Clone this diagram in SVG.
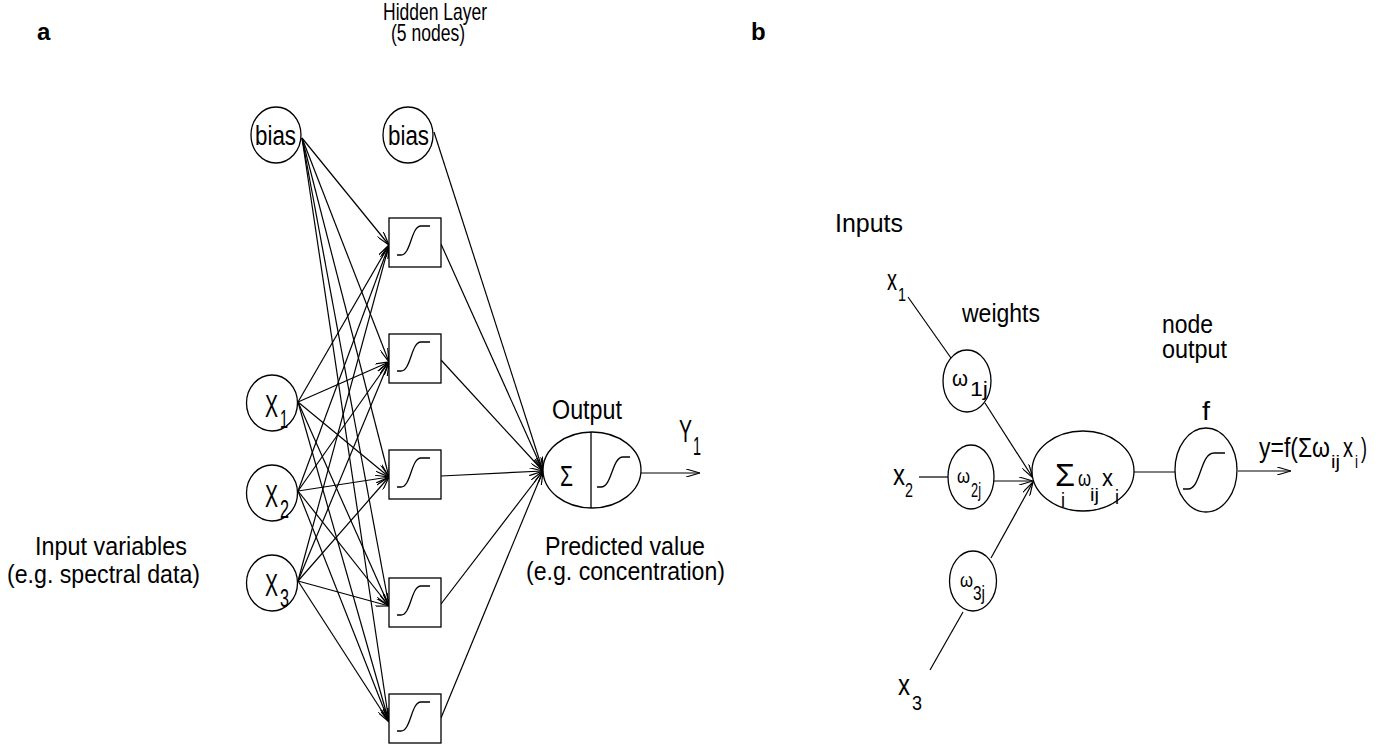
<svg xmlns="http://www.w3.org/2000/svg" width="1383" height="747" viewBox="0 0 1383 747">
<style>
.t{font-family:"Liberation Sans Narrow","Liberation Sans",Arial,sans-serif;fill:#000}
.b{font-family:"Liberation Sans",Arial,sans-serif;font-weight:bold;fill:#000}
.n{fill:#fff;stroke:#000;stroke-width:1.3}
.c line{stroke:#000;stroke-width:1.2}
.a{marker-end:url(#arr)}
.s{fill:none;stroke:#000;stroke-width:1.3}
</style>
<defs>
<marker id="arr" viewBox="0 0 14 8" refX="14" refY="4" markerWidth="14" markerHeight="8" markerUnits="userSpaceOnUse" orient="auto">
<path d="M0,0 L14,4 L0,8" fill="none" stroke="#000" stroke-width="1.2"/>
</marker>
<path id="sig" d="M8,37 L12,37 C22,37 22,8 32,8 L41,8" fill="none" stroke="#000" stroke-width="1.3"/>
</defs>
<rect width="1383" height="747" fill="#fff"/>

<text class="b" x="37" y="40" font-size="24">a</text>
<text class="b" x="751" y="40" font-size="24">b</text>

<!-- panel a labels -->
<text class="t" x="383" y="20" font-size="24" textLength="104" lengthAdjust="spacingAndGlyphs">Hidden Layer</text>
<text class="t" x="391" y="41" font-size="24" textLength="74" lengthAdjust="spacingAndGlyphs">(5 nodes)</text>
<text class="t" x="35" y="555" font-size="26" textLength="152" lengthAdjust="spacingAndGlyphs">Input variables</text>
<text class="t" x="7" y="583" font-size="26" textLength="193" lengthAdjust="spacingAndGlyphs">(e.g. spectral data)</text>
<text class="t" x="545" y="555" font-size="26" textLength="160" lengthAdjust="spacingAndGlyphs">Predicted value</text>
<text class="t" x="526" y="580" font-size="26" textLength="199" lengthAdjust="spacingAndGlyphs">(e.g. concentration)</text>
<text class="t" x="552" y="419" font-size="27" textLength="70" lengthAdjust="spacingAndGlyphs">Output</text>
<text class="t" x="679" y="442" font-size="31" textLength="13" lengthAdjust="spacingAndGlyphs">Y</text>
<text class="t" x="693" y="455" font-size="26" textLength="8" lengthAdjust="spacingAndGlyphs">1</text>

<!-- connectors panel a -->
<g id="connectors-a" class="c">
<line class="a" x1="302" y1="138" x2="389" y2="245"/>
<line class="a" x1="302" y1="138" x2="389" y2="362"/>
<line class="a" x1="302" y1="138" x2="389" y2="477"/>
<line class="a" x1="302" y1="138" x2="389" y2="606"/>
<line class="a" x1="302" y1="138" x2="389" y2="722"/>
<line class="a" x1="298" y1="402" x2="389" y2="245"/>
<line class="a" x1="298" y1="402" x2="389" y2="362"/>
<line class="a" x1="298" y1="402" x2="389" y2="477"/>
<line class="a" x1="298" y1="402" x2="389" y2="606"/>
<line class="a" x1="298" y1="402" x2="389" y2="722"/>
<line class="a" x1="298" y1="491" x2="389" y2="245"/>
<line class="a" x1="298" y1="491" x2="389" y2="362"/>
<line class="a" x1="298" y1="491" x2="389" y2="477"/>
<line class="a" x1="298" y1="491" x2="389" y2="606"/>
<line class="a" x1="298" y1="491" x2="389" y2="722"/>
<line class="a" x1="298" y1="581" x2="389" y2="245"/>
<line class="a" x1="298" y1="581" x2="389" y2="362"/>
<line class="a" x1="298" y1="581" x2="389" y2="477"/>
<line class="a" x1="298" y1="581" x2="389" y2="606"/>
<line class="a" x1="298" y1="581" x2="389" y2="722"/>
<line class="a" x1="434" y1="132" x2="543" y2="471"/>
<line class="a" x1="441" y1="244" x2="543" y2="471"/>
<line class="a" x1="441" y1="360" x2="543" y2="471"/>
<line class="a" x1="441" y1="476" x2="543" y2="471"/>
<line class="a" x1="441" y1="604" x2="543" y2="471"/>
<line class="a" x1="441" y1="718" x2="543" y2="471"/>
<line class="a" x1="641" y1="473" x2="700" y2="473"/>
</g>

<!-- nodes panel a -->
<g id="bias1"><ellipse class="n" cx="276" cy="135" rx="25" ry="28"/><text class="t" x="255" y="145" font-size="27" textLength="41" lengthAdjust="spacingAndGlyphs">bias</text></g>
<g id="bias2"><ellipse class="n" cx="408" cy="135" rx="25" ry="28"/><text class="t" x="388" y="145" font-size="27" textLength="41" lengthAdjust="spacingAndGlyphs">bias</text></g>
<g id="x1"><ellipse class="n" cx="272" cy="403" rx="25.5" ry="28"/><text class="t" x="265" y="417" font-size="32" textLength="13" lengthAdjust="spacingAndGlyphs">X</text><text class="t" x="280" y="428" font-size="25" textLength="8" lengthAdjust="spacingAndGlyphs">1</text></g>
<g id="x2"><ellipse class="n" cx="272" cy="493" rx="25.5" ry="28"/><text class="t" x="265" y="507" font-size="32" textLength="13" lengthAdjust="spacingAndGlyphs">X</text><text class="t" x="280" y="518" font-size="25" textLength="9" lengthAdjust="spacingAndGlyphs">2</text></g>
<g id="x3"><ellipse class="n" cx="272" cy="583" rx="25.5" ry="28"/><text class="t" x="265" y="596" font-size="32" textLength="13" lengthAdjust="spacingAndGlyphs">X</text><text class="t" x="280" y="607" font-size="25" textLength="9" lengthAdjust="spacingAndGlyphs">3</text></g>
<g id="h1"><rect class="n" x="389" y="218" width="52" height="49"/><use href="#sig" x="389" y="218"/></g>
<g id="h2"><rect class="n" x="389" y="334" width="52" height="49"/><use href="#sig" x="389" y="334"/></g>
<g id="h3"><rect class="n" x="389" y="450" width="52" height="49"/><use href="#sig" x="389" y="450"/></g>
<g id="h4"><rect class="n" x="389" y="578" width="52" height="49"/><use href="#sig" x="389" y="578"/></g>
<g id="h5"><rect class="n" x="389" y="694" width="52" height="49"/><use href="#sig" x="389" y="694"/></g>
<g id="output">
<ellipse class="n" cx="592" cy="470" rx="49" ry="38"/>
<line x1="591" y1="432" x2="591" y2="508" stroke="#000" stroke-width="1.3"/>
<text class="t" x="560" y="486" font-size="29" textLength="13" lengthAdjust="spacingAndGlyphs">Σ</text>
<path class="s" d="M597,487 L601,487 C612,487 612,457 623,457 L630,457"/>
</g>

<!-- panel b labels -->
<text class="t" x="835" y="232" font-size="26" textLength="68" lengthAdjust="spacingAndGlyphs">Inputs</text>
<text class="t" x="962" y="322" font-size="26" textLength="78" lengthAdjust="spacingAndGlyphs">weights</text>
<text class="t" x="1162" y="333" font-size="26" textLength="51" lengthAdjust="spacingAndGlyphs">node</text>
<text class="t" x="1162" y="358" font-size="26" textLength="65" lengthAdjust="spacingAndGlyphs">output</text>
<text class="t" x="887" y="290" font-size="29" textLength="10" lengthAdjust="spacingAndGlyphs">x</text>
<text class="t" x="898" y="301" font-size="19" textLength="8" lengthAdjust="spacingAndGlyphs">1</text>
<text class="t" x="893" y="485" font-size="29" textLength="12" lengthAdjust="spacingAndGlyphs">x</text>
<text class="t" x="905" y="497" font-size="21" textLength="8" lengthAdjust="spacingAndGlyphs">2</text>
<text class="t" x="898" y="695" font-size="29" textLength="12" lengthAdjust="spacingAndGlyphs">x</text>
<text class="t" x="912" y="710" font-size="21" textLength="10" lengthAdjust="spacingAndGlyphs">3</text>
<text class="t" x="1202" y="420" font-size="26" textLength="8" lengthAdjust="spacingAndGlyphs">f</text>
<text class="t" x="1259" y="457" font-size="27" textLength="71" lengthAdjust="spacingAndGlyphs">y=f(Σω</text>
<text class="t" x="1331" y="468" font-size="19" textLength="9" lengthAdjust="spacingAndGlyphs">ij</text>
<text class="t" x="1343" y="457" font-size="27" textLength="10" lengthAdjust="spacingAndGlyphs">x</text>
<text class="t" x="1355" y="468" font-size="19" textLength="3" lengthAdjust="spacingAndGlyphs">i</text>
<text class="t" x="1361" y="457" font-size="27" textLength="6" lengthAdjust="spacingAndGlyphs">)</text>

<!-- connectors panel b -->
<g id="connectors-b" class="c">
<line x1="908" y1="297" x2="951" y2="358"/>
<line class="a" x1="985" y1="403" x2="1033" y2="478"/>
<line x1="919" y1="477" x2="948" y2="477"/>
<line class="a" x1="994" y1="481" x2="1033" y2="481"/>
<line class="a" x1="991" y1="558" x2="1033" y2="482"/>
<line x1="963" y1="612" x2="930" y2="670"/>
<line x1="1134" y1="472" x2="1175" y2="472"/>
<line class="a" x1="1238" y1="471" x2="1291" y2="471"/>
</g>

<!-- nodes panel b -->
<g id="w1"><ellipse class="n" cx="967" cy="381" rx="24" ry="31"/><text class="t" x="952" y="386" font-size="22" textLength="16" lengthAdjust="spacingAndGlyphs">ω</text><text class="t" x="970" y="396" font-size="20" textLength="18" lengthAdjust="spacingAndGlyphs">1j</text></g>
<g id="w2"><ellipse class="n" cx="971" cy="477" rx="23" ry="32"/><text class="t" x="957" y="483" font-size="21" textLength="13" lengthAdjust="spacingAndGlyphs">ω</text><text class="t" x="971" y="497" font-size="20" textLength="10" lengthAdjust="spacingAndGlyphs">2j</text></g>
<g id="w3"><ellipse class="n" cx="973" cy="581" rx="23.5" ry="30"/><text class="t" x="960" y="587" font-size="21" textLength="13" lengthAdjust="spacingAndGlyphs">ω</text><text class="t" x="973" y="600" font-size="20" textLength="12" lengthAdjust="spacingAndGlyphs">3j</text></g>
<g id="sum">
<ellipse class="n" cx="1083" cy="471" rx="51" ry="40"/>
<text class="t" x="1055" y="486" font-size="32" textLength="20" lengthAdjust="spacingAndGlyphs">Σ</text>
<text class="t" x="1061" y="507" font-size="20" textLength="4" lengthAdjust="spacingAndGlyphs">i</text>
<text class="t" x="1078" y="486" font-size="22" textLength="13" lengthAdjust="spacingAndGlyphs">ω</text>
<text class="t" x="1090" y="501" font-size="19" textLength="9" lengthAdjust="spacingAndGlyphs">ij</text>
<text class="t" x="1102" y="486" font-size="24" textLength="11" lengthAdjust="spacingAndGlyphs">x</text>
<text class="t" x="1115" y="504" font-size="20" textLength="4" lengthAdjust="spacingAndGlyphs">i</text>
</g>
<g id="f">
<ellipse class="n" cx="1206" cy="470" rx="31" ry="42"/>
<path class="s" d="M1183,489 L1188,489 C1201,489 1200,453 1214,453 L1225,453"/>
</g>
</svg>
